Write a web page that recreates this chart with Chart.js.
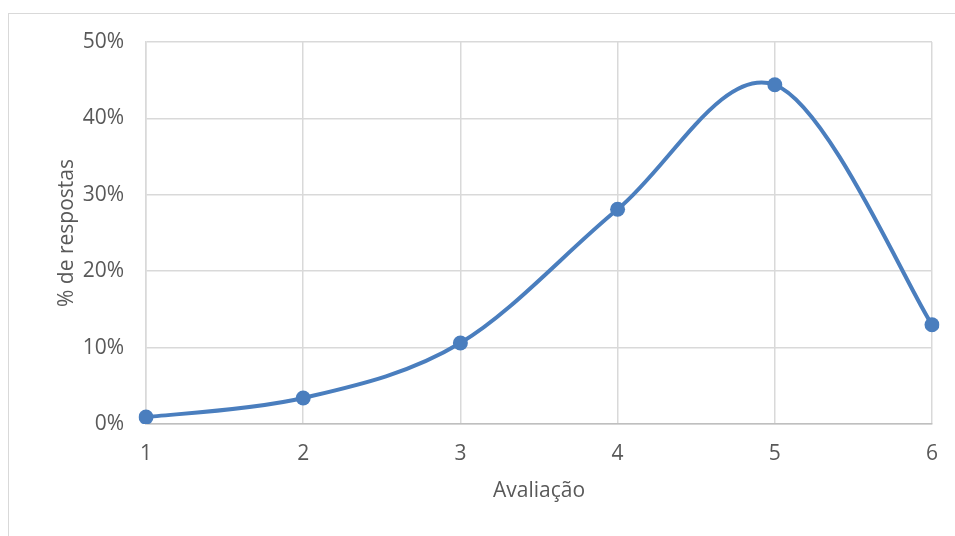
<!DOCTYPE html>
<html><head><meta charset="utf-8">
<script src="https://cdn.jsdelivr.net/npm/chart.js@4"></script>
<style>
html,body{margin:0;padding:0;background:#fff;}
#wrap{position:absolute;left:0;top:0;width:955px;height:536px;}
#frame{position:absolute;left:8px;top:13px;width:960px;height:540px;border:1px solid #d9d9d9;box-sizing:border-box;pointer-events:none;}
</style></head>
<body>
<div id="wrap"><canvas id="c" width="955" height="536"></canvas></div>
<div id="frame"></div>
<script>
const categories = ['1','2','3','4','5','6'];
const percentages = [0.9, 3.4, 10.6, 28.1, 44.4, 13.0];
const yTicks = [0,10,20,30,40,50];
const xTitle = 'Avaliação';
const yTitle = '% de respostas';

const txt = '#595959';
const lineColor = '#4a7ebe';
const font = {family:'"Open Sans", Lato, sans-serif', size:21};

// Excel-style smoothed line (Catmull-Rom through the points placed by the scales)
const smoothLine = {
  id:'smoothLine',
  beforeDatasetsDraw(chart){
    const pts = chart.getDatasetMeta(0).data.map(p=>({x:p.x,y:p.y}));
    const ctx = chart.ctx;
    ctx.save();
    ctx.beginPath();
    ctx.moveTo(pts[0].x, pts[0].y);
    for(let i=0;i<pts.length-1;i++){
      const p0 = pts[Math.max(i-1,0)], p1 = pts[i], p2 = pts[i+1], p3 = pts[Math.min(i+2,pts.length-1)];
      const c1x = p1.x + (p2.x-p0.x)/6, c1y = p1.y + (p2.y-p0.y)/6;
      const c2x = p2.x - (p3.x-p1.x)/6, c2y = p2.y - (p3.y-p1.y)/6;
      ctx.bezierCurveTo(c1x,c1y,c2x,c2y,p2.x,p2.y);
    }
    ctx.strokeStyle = lineColor;
    ctx.lineWidth = 4;
    ctx.lineJoin = 'round';
    ctx.lineCap = 'round';
    ctx.stroke();
    ctx.restore();
  }
};

new Chart(document.getElementById('c'), {
  type:'line',
  data:{labels:categories, datasets:[{
    data:percentages,
    borderColor:lineColor, backgroundColor:lineColor,
    showLine:false,
    pointRadius:7.5, pointHoverRadius:7.5, pointBorderWidth:0,
    fill:false
  }]},
  options:{
    responsive:false, animation:false,
    layout:{padding:{left:50,right:22,top:42,bottom:28}},
    plugins:{legend:{display:false},tooltip:{enabled:false}},
    scales:{
      x:{type:'category', offset:false,
        grid:{color:'#d9d9d9', lineWidth:1.5, drawTicks:false, offset:false},
        border:{color:'#bfbfbf', width:1.5},
        ticks:{color:txt, font:font, padding:17},
        title:{display:true, text:xTitle, color:txt, font:font, padding:{top:10}},
        afterFit:s=>{s.height=84;}
      },
      y:{min:0,max:50,
        afterBuildTicks:s=>{s.ticks=yTicks.map(v=>({value:v}));},
        grid:{color:'#d9d9d9', lineWidth:1.5, drawTicks:false},
        border:{color:'#d9d9d9', width:1.5},
        ticks:{color:txt, font:font, padding:22, callback:v=>v+'%'},
        title:{display:true, text:yTitle, color:txt, font:font, padding:{bottom:0}},
        afterFit:s=>{s.width=96;}
      }
    }
  },
  plugins:[smoothLine]
});
</script>
</body></html>
